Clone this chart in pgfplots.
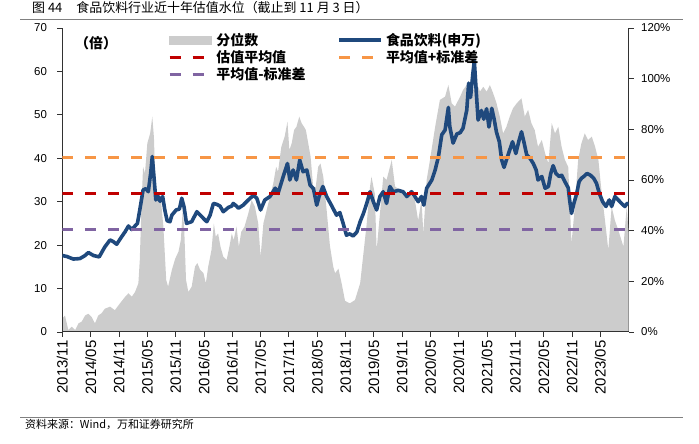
\documentclass[border=0pt]{standalone}
\usepackage{pgfplots}
\pgfplotsset{compat=1.18}
\usepackage{fontspec}
\setmainfont{Liberation Sans}
\newfontfamily\cjk{Noto Sans CJK SC}
\definecolor{pegray}{RGB}{204,204,204}
\definecolor{peblue}{RGB}{31,73,125}
\definecolor{pered}{RGB}{192,0,0}
\definecolor{peorange}{RGB}{247,150,70}
\definecolor{pepurple}{RGB}{128,100,162}
\definecolor{axgray}{RGB}{50,50,50}
\begin{document}
\begin{tikzpicture}[x=1bp,y=1bp]
\useasboundingbox (0,0) rectangle (699,444);
\node[anchor=base west, inner sep=0pt, font=\cjk\fontsize{13}{13}\selectfont] at (32,431) {图 44\hspace{14bp}食品饮料行业近十年估值水位（截止到 11 月 3 日）};
\draw[line width=0.9bp, gray] (20,425) -- (683,425);
\draw[line width=0.9bp, gray] (20,27) -- (683,27);
\node[anchor=base west, inner sep=0pt, font=\cjk\fontsize{11}{11}\selectfont] at (25,15) {资料来源：Wind，万和证券研究所};
\begin{axis}[
  at={(62.4bp,112bp)}, anchor=south west, scale only axis,
  width=566.2bp, height=304bp,
  xmin=0, xmax=120, ymin=0, ymax=120,
  axis y line*=right, axis x line=none, xtick=\empty,
  ytick={0,20,...,120},
  yticklabel={\pgfmathprintnumber{\tick}\%},
  /pgf/number format/assume math mode=true,
  y tick label style={font=\fontsize{11.5}{11.5}\selectfont, xshift=4bp},
  tick align=outside, major tick length=5bp,
  every tick/.style={axgray, line width=0.9bp},
  y axis line style={axgray, line width=1bp},
]
\addplot[fill=pegray, draw=none] coordinates {
(0,5.4) (0.55,6.5) (1.25,0.8) (2.0,2.1) (2.7,0.8) (3.4,3.4) (4.1,4.1) (4.8,6.5) (5.5,7.2) (6.2,5.9) (6.9,3.4) (7.6,6.5) (8.3,7.4) (9.0,9.2) (10.1,10.0) (11.1,8.6) (12.2,11.3) (13.3,13.9) (14.0,15.3) (14.7,13.9) (15.4,15.8) (16.1,19.2) (16.4,28.4) (16.8,52.1) (17.1,65.2) (17.5,62.6) (18.0,74.5) (18.6,78.4) (19.05,85.0) (19.4,76.8) (19.8,52.1) (20.3,53.8) (20.8,53.8) (21.4,41.6) (22.0,20.5) (22.4,17.9) (23.2,24.5) (23.9,28.9) (24.6,31.7) (25.1,36.3) (25.5,48.2) (25.8,41.6) (26.2,20.5) (26.7,15.8) (27.4,17.9) (28.1,25.8) (28.6,27.2) (29.2,24.5) (29.9,23.2) (30.4,19.2) (30.9,25.8) (31.6,32.4) (32.1,42.9) (32.5,37.6) (33.0,38.9) (33.5,33.7) (34.1,29.7) (34.8,28.4) (35.4,33.7) (35.9,38.9) (36.3,36.3) (36.9,41.6) (37.4,33.7) (37.9,39.5) (38.6,41.6) (39.4,46.8) (40.1,52.1) (40.8,49.5) (41.5,42.9) (42.0,29.7) (42.6,42.9) (43.3,48.2) (44.0,53.4) (44.7,58.7) (45.3,65.2) (45.7,63.3) (46.4,73.1) (47.1,77.1) (47.7,83.0) (48.1,71.8) (48.6,74.5) (49.1,79.7) (49.6,81.0) (50.2,85.0) (50.7,82.4) (51.2,81.0) (51.6,79.7) (52.1,74.5) (52.6,69.2) (53.2,56.0) (53.7,57.4) (54.2,65.2) (54.7,66.5) (55.3,61.2) (56.0,48.2) (56.7,34.0) (57.4,25.8) (57.8,23.2) (58.5,25.0) (59.2,19.0) (59.9,12.3) (60.9,11.3) (62.0,12.6) (63.1,19.2) (63.8,31.0) (64.5,42.9) (65.2,57.4) (65.5,61.3) (66.2,54.7) (66.6,32.4) (67.3,46.8) (68.0,61.3) (68.7,60.0) (69.8,67.9) (70.5,57.4) (71.5,56.1) (72.6,54.7) (73.7,54.7) (74.7,52.1) (75.4,44.0) (76.1,52.1) (76.5,39.0) (77.2,60.0) (77.9,67.9) (79.0,81.0) (80.0,91.6) (81.1,92.9) (81.8,97.5) (82.5,90.3) (83.2,89.0) (84.3,92.9) (84.9,95.5) (85.7,97.5) (86.4,96.8) (87.1,95.5) (87.8,98.2) (88.5,94.9) (89.2,96.8) (89.9,94.9) (90.6,97.5) (91.3,94.2) (92.0,90.3) (92.7,85.0) (93.4,78.4) (94.1,81.0) (94.8,85.0) (95.5,88.3) (96.3,90.3) (97.3,92.2) (98.0,85.0) (98.7,87.7) (99.4,82.4) (100.1,79.7) (100.8,73.1) (101.6,75.8) (102.3,70.5) (103.0,66.6) (103.7,82.4) (104.4,78.4) (105.1,81.0) (105.8,73.1) (106.5,67.9) (107.2,65.2) (107.9,35.0) (108.6,49.5) (109.3,67.9) (110.0,74.5) (110.7,78.4) (111.4,75.8) (112.2,77.1) (112.9,73.1) (113.6,67.9) (114.3,54.7) (115.0,44.0) (115.7,32.4) (116.4,49.5) (117.1,44.0) (117.8,40.3) (118.9,33.7) (119.6,49.5) (120,39.0)
} \closedcycle;
\end{axis}
\begin{axis}[
  at={(62.4bp,112bp)}, anchor=south west, scale only axis,
  width=566.2bp, height=304bp,
  xmin=0, xmax=120, ymin=0, ymax=70,
  axis y line*=left, axis x line*=bottom,
  ytick={0,10,...,70},
  xtick={0,6,...,114},
  xticklabels={2013/11,2014/05,2014/11,2015/05,2015/11,2016/05,2016/11,2017/05,2017/11,2018/05,2018/11,2019/05,2019/11,2020/05,2020/11,2021/05,2021/11,2022/05,2022/11,2023/05},
  /pgf/number format/assume math mode=true,
  y tick label style={font=\fontsize{11.5}{11.5}\selectfont, xshift=-7bp},
  x tick label style={font=\fontsize{15}{15}\selectfont, rotate=90, anchor=east, yshift=0bp},
  tick align=outside, major tick length=5bp,
  every tick/.style={axgray, line width=0.9bp},
  axis line style={axgray, line width=1bp},
  legend columns=2,
  legend cell align=left,
  legend style={at={(0.186,0.99)}, anchor=north west, draw=none, fill=none,
    font=\cjk\bfseries\fontsize{14}{14}\selectfont, inner sep=0pt, row sep=0pt,
    nodes={inner ysep=1.9bp, inner xsep=3bp},
    /tikz/every even column/.append style={column sep=29bp}},
  legend image code/.code={\draw[#1] (0bp,0bp) -- (42bp,0bp);},
]
\addlegendimage{legend image code/.code={\fill[pegray] (0bp,-4bp) rectangle (42bp,4bp);}}
\addlegendentry{分位数}
\addplot[peblue, line width=3.6bp, line join=round] coordinates {
(0,17.6) (0.9,17.4) (2.3,16.8) (3.7,16.9) (4.8,17.6) (5.5,18.3) (6.6,17.6) (7.8,17.3) (9.0,19.6) (10.1,21.2) (10.8,20.8) (11.5,20.2) (12.6,22.0) (13.3,23.1) (14.0,24.4) (14.7,23.6) (15.9,25.0) (16.4,28.1) (17.1,32.7) (17.7,33.0) (18.2,32.3) (18.7,36.5) (19.05,40.4) (19.4,35.8) (19.8,30.4) (20.3,31.2) (20.7,30.1) (21.25,31.2) (21.7,28.1) (22.2,25.6) (22.8,25.4) (23.2,26.9) (24.1,28.1) (24.8,28.3) (25.3,30.8) (25.8,28.7) (26.3,25.0) (27.4,25.4) (28.5,27.7) (29.5,26.6) (30.2,25.8) (30.6,25.4) (31.3,26.9) (32.0,29.6) (32.7,29.4) (33.4,29.0) (34.1,27.7) (35.2,28.7) (35.9,29.0) (36.2,29.6) (36.9,29.0) (37.3,28.5) (38.3,29.2) (39.4,30.4) (40.5,31.5) (41.2,30.8) (42.0,28.1) (42.9,30.4) (44.0,31.2) (45.1,33.1) (45.7,31.9) (46.8,35.8) (47.7,38.8) (48.2,35.0) (48.9,37.3) (49.6,35.0) (50.3,39.6) (51.0,36.9) (51.8,37.3) (52.5,33.8) (53.2,33.0) (53.9,29.2) (54.4,31.2) (55.2,33.5) (56.0,31.2) (57.1,29.0) (58.1,26.9) (58.8,27.5) (59.5,25.0) (60.2,22.3) (60.9,22.6) (61.6,22.1) (62.4,23.0) (63.1,25.4) (63.8,27.3) (64.5,29.6) (65.2,32.3) (65.9,30.0) (66.6,28.1) (67.3,31.2) (68.0,32.3) (68.7,29.6) (69.4,33.5) (70.1,32.3) (71.2,32.6) (72.2,32.3) (73.0,31.2) (74.0,32.3) (74.7,31.2) (75.4,30.0) (76.1,31.2) (76.6,29.2) (77.2,33.1) (78.3,35.0) (79.0,37.3) (79.7,40.4) (80.4,45.4) (81.1,46.5) (81.8,51.7) (82.1,47.3) (82.8,43.5) (83.6,45.6) (84.3,45.9) (84.9,46.9) (85.7,51.1) (86.1,57.3) (86.5,54.0) (87.0,59.6) (87.3,62.4) (87.7,55.5) (88.1,48.8) (88.8,51.0) (89.3,49.0) (89.9,51.4) (90.4,47.2) (91.0,51.5) (91.5,49.0) (92.0,46.0) (92.6,43.8) (93.1,39.6) (93.6,37.9) (94.1,39.6) (94.8,41.9) (95.4,43.8) (96.1,41.1) (96.8,44.2) (97.3,46.1) (97.8,43.8) (98.4,40.8) (99.1,40.0) (99.8,38.8) (100.4,37.3) (100.8,35.0) (101.6,35.8) (102.3,33.1) (103.0,33.5) (103.5,36.5) (104.0,38.3) (104.6,36.5) (105.3,35.8) (105.8,36.1) (106.5,34.6) (107.2,33.2) (107.5,30.4) (107.9,27.3) (108.4,29.6) (109.0,31.9) (109.5,34.6) (110.0,35.4) (110.5,35.8) (111.2,36.5) (111.9,36.1) (112.6,35.4) (113.2,34.2) (113.8,31.9) (114.5,30.0) (115.2,28.9) (115.9,30.4) (116.4,28.9) (117.1,31.2) (117.8,30.4) (118.5,29.6) (119.2,28.9) (119.7,29.6) (120,29.3)
};
\addlegendentry{食品饮料(申万)}
\addplot[pered, line width=3.5bp, dash pattern=on 11bp off 12bp] coordinates {(0,31.9) (120,31.9)};
\addlegendentry{估值平均值}
\addplot[peorange, line width=3.5bp, dash pattern=on 11bp off 12bp] coordinates {(0,40.2) (120,40.2)};
\addlegendentry{平均值+标准差}
\addplot[pepurple, line width=3.5bp, dash pattern=on 11bp off 12bp] coordinates {(0,23.6) (120,23.6)};
\addlegendentry{平均值-标准差}
\end{axis}
\node[anchor=west, inner sep=0pt, font=\cjk\bfseries\fontsize{14}{14}\selectfont] at (75,401) {（倍）};
\end{tikzpicture}
\end{document}
